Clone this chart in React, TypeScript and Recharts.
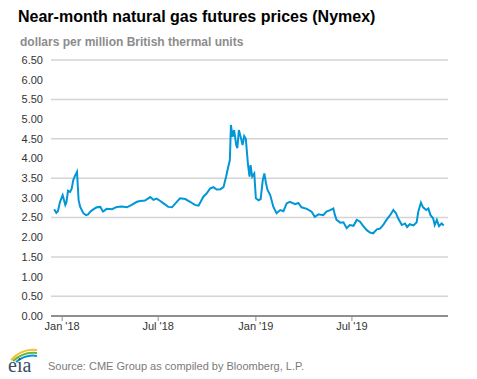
import React from 'react';
import { LineChart, Line, XAxis, YAxis, CartesianGrid } from 'recharts';

// near-month Henry Hub futures
const dates = [
  '2017-12-17', '2017-12-21', '2017-12-24', '2017-12-28', '2018-01-02', '2018-01-07', '2018-01-09',
  '2018-01-12', '2018-01-16', '2018-01-19', '2018-01-22', '2018-01-25', '2018-01-29', '2018-02-01',
  '2018-02-04', '2018-02-10', '2018-02-15', '2018-02-19', '2018-02-23', '2018-02-28', '2018-03-07',
  '2018-03-14', '2018-03-19', '2018-03-26', '2018-04-05', '2018-04-14', '2018-04-23', '2018-05-03',
  '2018-05-12', '2018-05-22', '2018-05-28', '2018-06-06', '2018-06-16', '2018-06-22', '2018-06-28',
  '2018-07-05', '2018-07-11', '2018-07-20', '2018-07-27', '2018-08-05', '2018-08-11', '2018-08-21',
  '2018-08-30', '2018-09-08', '2018-09-15', '2018-09-19', '2018-09-24', '2018-09-30', '2018-10-07',
  '2018-10-13', '2018-10-19', '2018-10-26', '2018-11-01', '2018-11-06', '2018-11-10', '2018-11-13',
  '2018-11-15', '2018-11-18', '2018-11-21', '2018-11-25', '2018-11-27', '2018-11-30', '2018-12-04',
  '2018-12-07', '2018-12-10', '2018-12-13', '2018-12-17', '2018-12-20', '2018-12-22', '2018-12-25',
  '2018-12-29', '2019-01-01', '2019-01-06', '2019-01-10', '2019-01-14', '2019-01-17', '2019-01-20',
  '2019-01-23', '2019-01-28', '2019-02-03', '2019-02-09', '2019-02-16', '2019-02-22', '2019-02-28',
  '2019-03-06', '2019-03-16', '2019-03-22', '2019-03-28', '2019-04-07', '2019-04-16', '2019-04-22',
  '2019-04-29', '2019-05-08', '2019-05-14', '2019-05-21', '2019-05-27', '2019-05-30', '2019-06-02',
  '2019-06-09', '2019-06-15', '2019-06-21', '2019-06-27', '2019-07-04', '2019-07-10', '2019-07-16',
  '2019-07-22', '2019-07-29', '2019-08-04', '2019-08-10', '2019-08-17', '2019-08-23', '2019-08-29',
  '2019-09-04', '2019-09-11', '2019-09-17', '2019-09-22', '2019-09-26', '2019-10-03', '2019-10-09',
  '2019-10-13', '2019-10-18', '2019-10-25', '2019-10-31', '2019-11-03', '2019-11-08', '2019-11-12',
  '2019-11-18', '2019-11-22', '2019-11-26', '2019-12-01', '2019-12-04', '2019-12-08', '2019-12-12',
  '2019-12-17', '2019-12-21',
];

const prices = [
  2.71, 2.62, 2.66, 2.9, 3.07, 2.82, 2.88,
  3.18, 3.15, 3.23, 3.45, 3.55, 3.66, 2.94,
  2.77, 2.61, 2.56, 2.58, 2.65, 2.7, 2.76,
  2.77, 2.65, 2.72, 2.71, 2.77, 2.78, 2.76,
  2.82, 2.9, 2.92, 2.93, 3.02, 2.95, 2.98,
  2.92, 2.86, 2.77, 2.76, 2.9, 2.99, 2.97,
  2.9, 2.82, 2.8, 2.9, 3.03, 3.11, 3.24,
  3.27, 3.21, 3.22, 3.27, 3.54, 3.79, 3.96,
  4.85, 4.55, 4.72, 4.34, 4.26, 4.72, 4.51,
  4.34, 4.57, 4.5, 3.87, 3.54, 3.83, 3.54,
  3.62, 2.99, 2.94, 2.97, 3.45, 3.62, 3.37,
  3.2, 3.07, 2.77, 2.61, 2.69, 2.66, 2.86,
  2.9, 2.84, 2.87, 2.76, 2.72, 2.65, 2.52,
  2.58, 2.56, 2.65, 2.69, 2.73, 2.56, 2.44,
  2.37, 2.38, 2.23, 2.31, 2.29, 2.44, 2.4,
  2.29, 2.18, 2.12, 2.1, 2.2, 2.22, 2.31,
  2.44, 2.56, 2.69, 2.61, 2.48, 2.31, 2.35,
  2.26, 2.33, 2.3, 2.38, 2.65, 2.88, 2.76,
  2.69, 2.73, 2.56, 2.48, 2.31, 2.44, 2.28,
  2.35, 2.3,
];

const xTickDates = ['2018-01-01', '2018-07-01', '2019-01-01', '2019-07-01'];
const xTickLabels = ["Jan '18", "Jul '18", "Jan '19", "Jul '19"];
const yTicks = [0, 0.5, 1, 1.5, 2, 2.5, 3, 3.5, 4, 4.5, 5, 5.5, 6, 6.5];

const data = dates.map((d, i) => ({ t: Date.parse(d), price: prices[i] }));
const xTicks = xTickDates.map((d) => Date.parse(d));
const xDomain = [Date.parse('2017-12-11'), Date.parse('2019-12-29')];

const font = '"Liberation Sans", Arial, sans-serif';

const EiaLogo = () => (
  <svg width={34} height={30} style={{ position: 'absolute', left: 6, top: 345 }}>
    <path d="M5 15 Q16 3 31 5" stroke="#f2c230" strokeWidth={2} fill="none" />
    <path d="M7 16 Q18 6 31 8" stroke="#6cb33f" strokeWidth={2} fill="none" />
    <path d="M10 17 Q20 9 31 11" stroke="#0096d7" strokeWidth={2} fill="none" />
    <text x={2} y={27} fontFamily='"Liberation Serif", serif' fontSize={20} fill="#3b4d61">
      eia
    </text>
  </svg>
);

export default function App() {
  return (
    <div
      style={{
        position: 'absolute',
        left: 0,
        top: 0,
        width: 477,
        height: 379,
        background: '#fff',
        fontFamily: font,
      }}
    >
      <div
        style={{
          position: 'absolute',
          left: 18,
          top: 9,
          fontSize: 16,
          lineHeight: '16px',
          fontWeight: 'bold',
          color: '#000',
          whiteSpace: 'nowrap',
        }}
      >
        Near-month natural gas futures prices (Nymex)
      </div>
      <div
        style={{
          position: 'absolute',
          left: 20,
          top: 36,
          fontSize: 12,
          lineHeight: '12px',
          fontWeight: 'bold',
          color: '#8c8c8c',
          whiteSpace: 'nowrap',
        }}
      >
        dollars per million British thermal units
      </div>

      <div style={{ position: 'absolute', left: 0, top: 0 }}>
        <LineChart width={477} height={379} data={data} margin={{ top: 60, right: 29, bottom: 33, left: 0 }}>
          <CartesianGrid vertical={false} stroke="#d4d4d4" strokeWidth={1.5} />
          <XAxis
            dataKey="t"
            type="number"
            domain={xDomain}
            ticks={xTicks}
            allowDataOverflow
            tickFormatter={(v: number) => xTickLabels[xTicks.indexOf(v)] ?? ''}
            height={30}
            axisLine={{ stroke: '#8f8f8f', strokeWidth: 2 }}
            tickLine={{ stroke: '#8f8f8f', strokeWidth: 1 }}
            tickSize={5}
            tickMargin={1}
            tick={{ fill: '#333', fontSize: 11, fontFamily: font }}
          />
          <YAxis
            type="number"
            domain={[0, 6.5]}
            ticks={yTicks}
            width={51}
            axisLine={false}
            tickLine={false}
            tickFormatter={(v: number) => v.toFixed(2)}
            tick={{ fill: '#333', fontSize: 11, fontFamily: font }}
          />
          <Line
            type="linear"
            dataKey="price"
            stroke="#0096d7"
            strokeWidth={2}
            dot={false}
            isAnimationActive={false}
          />
        </LineChart>
      </div>

      <EiaLogo />
      <div
        style={{
          position: 'absolute',
          left: 48,
          top: 361,
          fontSize: 11,
          lineHeight: '11px',
          color: '#7a7a7a',
          whiteSpace: 'nowrap',
        }}
      >
        Source: CME Group as compiled by Bloomberg, L.P.
      </div>
    </div>
  );
}
